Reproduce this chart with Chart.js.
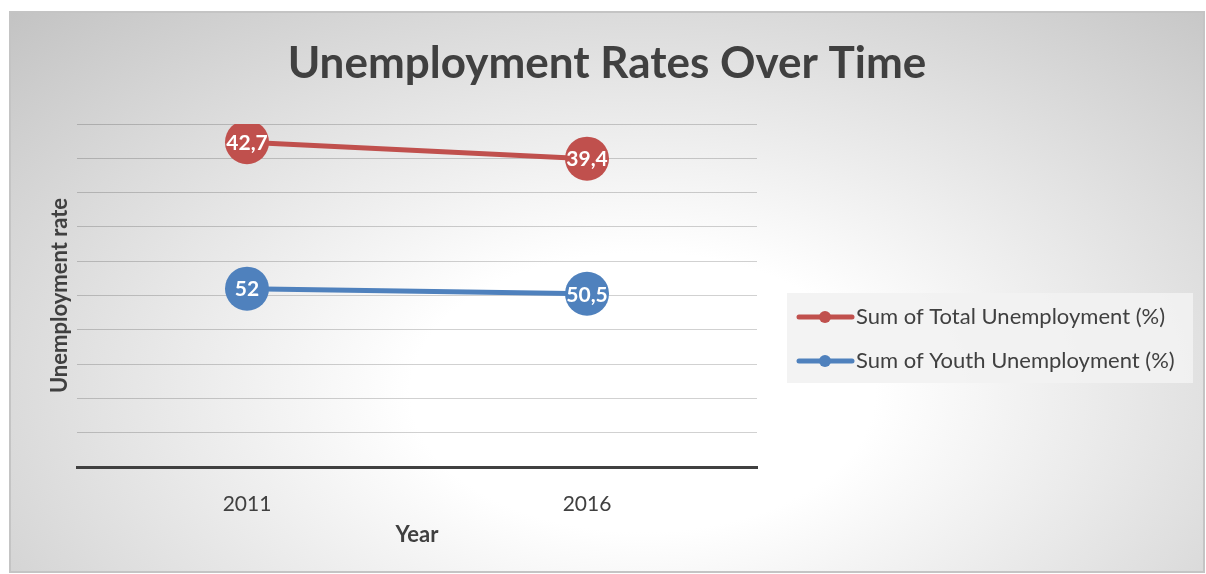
<!DOCTYPE html>
<html>
<head>
<meta charset="utf-8">
<script src="https://cdn.jsdelivr.net/npm/chart.js@4"></script>
<style>
  body { margin: 0; width: 1206px; height: 574px; background: #fff; overflow: hidden; }
  #marco {
    position: absolute; left: 9px; top: 11px; width: 1196px; height: 562px;
    box-sizing: border-box; border: 2px solid #c4c4c4;
    background: radial-gradient(ellipse farthest-corner at 53% 68%, #ffffff 0%, #ffffff 26%, #c3c3c3 100%);
  }
  #grafica { display: block; }
</style>
</head>
<body>
<div id="marco"><canvas id="grafica" width="1192" height="558"></canvas></div>
<script>
const years = ["2011", "2016"]
const totalUnemployment = [42.7, 39.4]
const youthUnemployment = [52, 50.5]
const seriesNames = ["Sum of Total Unemployment (%)", "Sum of Youth Unemployment (%)"]

const fuente = "Lato, 'Open Sans', sans-serif"
const gris = "#404040"
const rojo = "#c0504d"
const azul = "#4f81bd"

// numbers inside the dots, with comma decimals
const etiquetas = {
  id: "etiquetas",
  afterDatasetsDraw(chart) {
    const ctx = chart.ctx
    ctx.save()
    ctx.fillStyle = "#fff"
    ctx.font = `bold 21px ${fuente}`
    ctx.textAlign = "center"
    ctx.textBaseline = "middle"
    chart.data.datasets.forEach((ds, i) => {
      chart.getDatasetMeta(i).data.forEach((pt, j) => {
        ctx.fillText(String(ds.data[j]).replace(".", ","), pt.x, pt.y + 1)
      })
    })
    ctx.restore()
  }
}

// legend box on the right, total first
const leyenda = {
  id: "leyenda",
  afterDraw(chart) {
    const ctx = chart.ctx
    ctx.save()
    ctx.fillStyle = "rgba(242,242,242,0.9)"
    ctx.fillRect(776, 280, 406, 90)
    const items = chart.data.datasets.slice().reverse()
    items.forEach((ds, i) => {
      const y = 304 + i * 44
      ctx.strokeStyle = ds.borderColor
      ctx.lineWidth = 5
      ctx.lineCap = "round"
      ctx.beginPath()
      ctx.moveTo(788, y)
      ctx.lineTo(841, y)
      ctx.stroke()
      ctx.fillStyle = ds.borderColor
      ctx.beginPath()
      ctx.arc(814, y, 6, 0, Math.PI * 2)
      ctx.fill()
      ctx.fillStyle = gris
      ctx.font = `22px ${fuente}`
      ctx.textBaseline = "middle"
      ctx.fillText(ds.label, 845, y)
    })
    ctx.restore()
  }
}

new Chart(document.querySelector("#grafica"), {
  type: "line",
  data: {
    labels: years,
    datasets: [
      {
        label: seriesNames[1],
        data: youthUnemployment,
        borderColor: azul,
        backgroundColor: azul,
        borderWidth: 5,
        pointRadius: 22,
        pointBorderWidth: 0,
        fill: false
      },
      {
        label: seriesNames[0],
        data: totalUnemployment,
        borderColor: rojo,
        backgroundColor: rojo,
        borderWidth: 5,
        pointRadius: 22,
        pointBorderWidth: 0,
        fill: false
      }
    ]
  },
  options: {
    responsive: false,
    animation: false,
    layout: { padding: 0 },
    plugins: {
      legend: { display: false },
      tooltip: { enabled: false },
      title: {
        display: true,
        text: "Unemployment Rates Over Time",
        color: gris,
        font: { family: fuente, size: 44, weight: "bold", lineHeight: 1.2 },
        padding: { top: 24.6, bottom: 33.6 }
      }
    },
    scales: {
      x: {
        offset: true,
        grid: { display: false },
        border: { display: true, color: gris, width: 3 },
        ticks: { color: gris, font: { family: fuente, size: 21 }, padding: 17, maxRotation: 0 },
        title: {
          display: true, text: "Year", color: gris,
          font: { family: fuente, size: 22, weight: "bold", lineHeight: 1.2 },
          padding: { top: 12, bottom: 23 }
        },
        afterFit: s => { s.height = 104 }
      },
      y: {
        stacked: true,
        min: 0,
        max: 100,
        ticks: { display: false, stepSize: 10 },
        grid: { color: "rgba(0,0,0,0.18)", lineWidth: 1, drawTicks: false },
        border: { display: false },
        title: {
          display: true, text: "Unemployment rate", color: gris,
          font: { family: fuente, size: 22, weight: "bold", lineHeight: 1.2 },
          padding: { top: 36, bottom: 4 }
        },
        afterFit: s => { s.width = 66 }
      },
      espacio: {
        axis: "y",
        position: "right",
        ticks: { display: false },
        grid: { display: false },
        border: { display: false },
        afterFit: s => { s.width = 446 }
      }
    }
  },
  plugins: [etiquetas, leyenda]
})
</script>
</body>
</html>
